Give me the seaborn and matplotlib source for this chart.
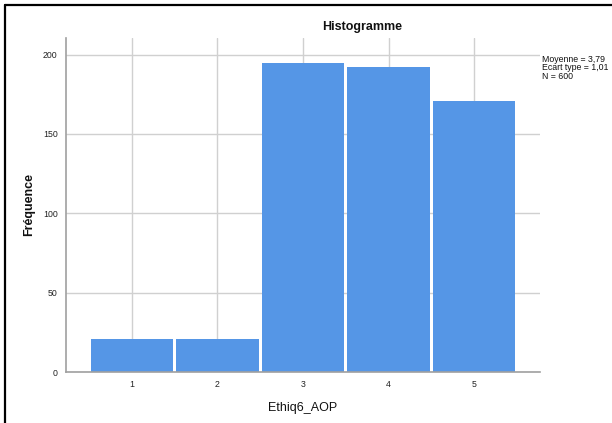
import matplotlib
matplotlib.use("Agg")
import matplotlib.pyplot as plt
import seaborn as sns
import pandas as pd
from matplotlib.lines import Line2D

categories = [1, 2, 3, 4, 5]
counts = [21, 21, 195, 192, 171]
stats_lines = ["Moyenne = 3,79", "Ecart type = 1,01", "N = 600"]
title = "Histogramme"
xlabel = "Ethiq6_AOP"
ylabel = "Fréquence"
yticks = [0, 50, 100, 150, 200]

sns.set_style("white")
plt.rcParams['font.family'] = ['Liberation Sans', 'DejaVu Sans']

df = pd.DataFrame({"val": categories, "n": counts})

W, H = 612, 423
fig = plt.figure(figsize=(W / 100, H / 100), dpi=100)
ax = fig.add_axes([66 / W, 1 - 372 / H, (540 - 66) / W, (372 - 38) / H])

ax.set_axisbelow(True)
sns.histplot(data=df, x="val", weights="n", discrete=True, shrink=0.965,
             color="#5596E6", alpha=1, edgecolor="none", linewidth=0, ax=ax)

ax.set_xlim(0.23, 5.77)
ax.set_ylim(0, 210.5)
ax.set_xticks(categories)
ax.set_yticks(yticks)
ax.tick_params(axis="both", length=0, labelsize=6.3, pad=6, colors="#222222")
ax.grid(True, color="#D0D0D0", linewidth=1)
for s in ["top", "right"]:
    ax.spines[s].set_visible(False)
for s in ["left", "bottom"]:
    ax.spines[s].set_color("#A0A0A0")
    ax.spines[s].set_linewidth(1.2)
ax.set_xlabel("")
ax.set_ylabel("")

fig.text(362 / W, 1 - 27 / H, title, ha="center", va="center", fontsize=9, fontweight="bold", color="#111111")
fig.text(303 / W, 1 - 408 / H, xlabel, ha="center", va="center", fontsize=9, color="#111111")
fig.text(29 / W, 1 - 205 / H, ylabel, ha="center", va="center", rotation=90, fontsize=9, fontweight="bold", color="#111111")
fig.text(542 / W, 1 - 55 / H, "\n".join(stats_lines), ha="left", va="top", fontsize=6.3, linespacing=0.9, color="#111111")

fig.add_artist(Line2D([4.5 / W, 4.5 / W], [0, 1 - 5 / H], color="black", linewidth=1.6))
fig.add_artist(Line2D([4.5 / W, 1], [1 - 5.5 / H, 1 - 5.5 / H], color="black", linewidth=1.6))

fig.savefig("out.png", dpi=100)
